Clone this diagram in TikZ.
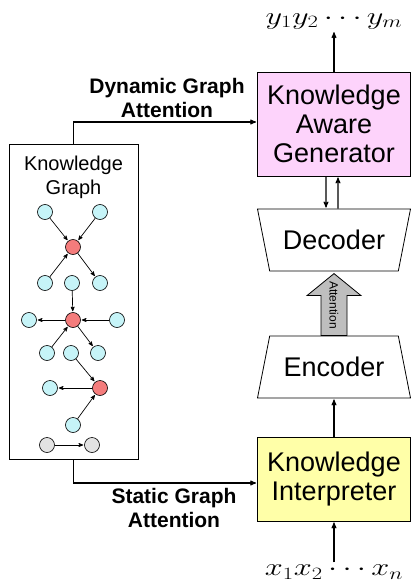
\documentclass[tikz,border=0pt]{standalone}
\usepackage{fontspec}
\usepackage{graphicx}
\setmainfont{Liberation Sans}
\usetikzlibrary{arrows,shapes.geometric}

\definecolor{genpink}{HTML}{FDD3FB}
\definecolor{interyellow}{HTML}{FFFFA8}
\definecolor{entcyan}{HTML}{C6F4F8}
\definecolor{hubred}{HTML}{F47C7C}
\definecolor{entgray}{HTML}{E3E3E3}
\definecolor{attgray}{HTML}{BEBEBE}

\begin{document}
\begin{tikzpicture}[x=1pt,y=-1pt,>=stealth',shorten >=1pt,auto,
    block/.style={draw, line width=0.8pt, minimum width=153pt, align=center,
      font=\fontsize{27}{29}\selectfont},
    coder/.style={draw, line width=0.8pt, trapezium, trapezium angle=65.3,
      trapezium stretches body, minimum width=153pt, minimum height=62pt,
      font=\fontsize{27}{29}\selectfont},
    ent/.style={circle, draw, line width=0.6pt, fill=entcyan,
      minimum size=15pt, inner sep=0pt},
    hub/.style={ent, fill=hubred},
    gent/.style={ent, fill=entgray},
    link/.style={->, line width=1.1pt},
    arc/.style={->, line width=0.7pt},
    seq/.style={font=\fontsize{25}{28}\selectfont, inner sep=2pt},
    tag/.style={align=center, font=\fontsize{21}{24}\selectfont\bfseries}]
        \useasboundingbox (0,0) rectangle (411,588);

        % main column
        \node[block, fill=genpink, minimum height=104pt] (gen) at (334,124)
          {Knowledge\\Aware\\Generator};
        \node[coder, shape border rotate=180] (dec) [node distance=116pt, below of = gen] {Decoder};
        \node[coder] (enc) [node distance=127pt, below of = dec] {Encoder};
        \node[block, fill=interyellow, minimum height=84pt] (interp) [node distance=112pt, below of = enc]
          {Knowledge\\Interpreter};

        \node[seq] (out) at (334,21) {\scalebox{1.3}[1]{$y_1y_2\cdots y_m$}};
        \node[seq] (in) at (334,572) {\scalebox{1.3}[1]{$x_1x_2\cdots x_n$}};

        \draw[link] (gen) -- (out);
        \draw[link] (in) -- (interp);
        \draw[link] (interp) -- (enc);
        \draw[link] ([xshift=-8pt]gen.south) -- ([xshift=-8pt]dec.north);
        \draw[link] ([xshift=4pt]dec.north) -- ([xshift=4pt]gen.south);

        % attention arrow
        \draw[line width=0.8pt, fill=attgray] (enc.north) ++(-13,0) -- ++(0,-40) -- ++(-14,0)
          -- ++(27,-22) -- ++(27,22) -- ++(-14,0) -- ++(0,40) -- cycle;
        \node[rotate=-90, font=\fontsize{12}{14}\selectfont] (att) at (334,305) {Attention};

        % knowledge graph
        \node[draw, line width=0.8pt, minimum width=129pt, minimum height=315pt] (kg) at (73.5,301.5) {};
        \node[align=center, font=\fontsize{20}{24}\selectfont] (kgtitle) at (73.5,177) {Knowledge\\Graph};

        \node[ent] (a1) at (45,212) {};
        \node[ent] (a2) at (100,212) {};
        \node[hub] (h1) at (73,247) {};
        \node[ent] (b1) at (45,283) {};
        \node[ent] (b2) at (72,283) {};
        \node[ent] (b3) at (100,283) {};
        \node[hub] (h2) at (73,320) {};
        \node[ent] (c1) at (29,320) {};
        \node[ent] (c2) at (117,320) {};
        \node[ent] (d1) at (47,353) {};
        \node[ent] (d2) at (71,353) {};
        \node[ent] (d3) at (98,353) {};
        \node[hub] (h3) at (100,388) {};
        \node[ent] (e1) at (50,388) {};
        \node[ent] (f1) at (73,425) {};
        \node[gent] (g1) at (47,445) {};
        \node[gent] (g2) at (92,445) {};

        \path[arc] (a1) edge (h1)
                   (a2) edge (h1)
                   (b1) edge (h1)
                   (h1) edge (b3)
                   (b2) edge (h2)
                   (h2) edge (c1)
                   (c2) edge (h2)
                   (d1) edge (h2)
                   (h2) edge (d3)
                   (d2) edge (h3)
                   (h3) edge (e1)
                   (f1) edge (h3)
                   (g1) edge (g2);

        % graph attention
        \draw[link] (kg.north) |- ([yshift=2pt]gen.west);
        \draw[link] (kg.south) |- ([yshift=-4pt]interp.west);
        \node[tag] (dyn) at (167,98) {Dynamic Graph\\Attention};
        \node[tag] (sta) at (174,508) {Static Graph\\Attention};
      \end{tikzpicture}
\end{document}
